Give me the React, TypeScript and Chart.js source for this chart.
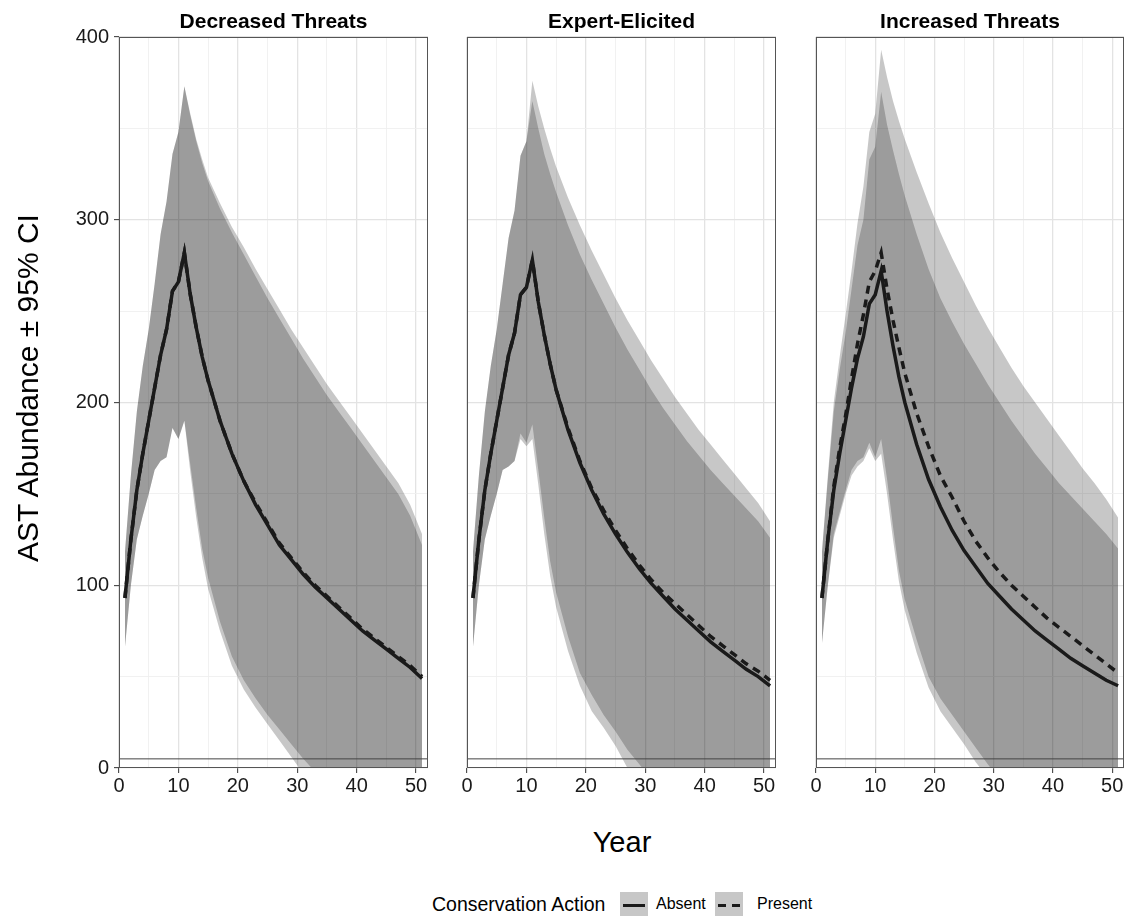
import React, { useEffect, useRef } from "react";
import { Chart, registerables } from "chart.js";

Chart.register(...registerables);

// ---------------- DATA ----------------
const years = [1, 2, 3, 4, 5, 6, 7, 8, 9, 10, 11, 12, 13, 14, 15, 17, 19, 21, 23, 25, 27, 29, 31, 33, 35, 37, 39, 41, 43, 45, 47, 49, 51];

const panelTitles = ["Decreased Threats", "Expert-Elicited", "Increased Threats"];
const xTickLabels = [0, 10, 20, 30, 40, 50];
const xGridValues = [0, 5, 10, 15, 20, 25, 30, 35, 40, 45, 50];
const yTickLabels = [0, 100, 200, 300, 400];
const yGridValues = [0, 50, 100, 150, 200, 250, 300, 350, 400];
const thresholdX = [0, 52];
const thresholdY = [5, 5];

// Decreased Threats
const dec_meanAbsent = [93, 125, 152, 172, 190, 208, 226, 240, 261, 266, 282, 259, 241, 225, 212, 190, 172, 157, 144, 133, 122, 114, 106, 99, 93, 87, 81, 75, 70, 65, 60, 55, 49];
const dec_meanPresent = [93, 125, 152, 172, 190, 208, 226, 240, 261, 266, 282, 259, 241, 225, 212, 190, 172, 157, 145, 134, 123, 115, 107, 100, 94, 88, 82, 76, 71, 66, 61, 56, 50];
const dec_upperAbsent = [118, 160, 195, 220, 240, 265, 292, 310, 336, 348, 373, 357, 343, 331, 321, 306, 293, 281, 269, 257, 246, 235, 224, 214, 204, 195, 186, 177, 168, 159, 150, 138, 122];
const dec_upperPresent = [118, 160, 195, 220, 240, 265, 292, 310, 336, 348, 373, 358, 344, 333, 323, 309, 296, 285, 273, 262, 251, 240, 230, 220, 210, 201, 192, 183, 174, 165, 156, 144, 128];
const dec_lowerAbsent = [66, 100, 125, 138, 150, 163, 168, 170, 186, 180, 190, 162, 137, 115, 98, 75, 56, 43, 33, 24, 15, 6, -3, -12, -20, -27, -33, -38, -43, -47, -51, -54, -57];
const dec_lowerPresent = [66, 100, 125, 138, 150, 163, 168, 170, 186, 180, 190, 166, 142, 120, 104, 80, 61, 48, 38, 29, 21, 13, 5, -2, -9, -16, -22, -28, -33, -38, -42, -46, -50];

// Expert-Elicited
const exp_meanAbsent = [93, 125, 152, 172, 190, 208, 226, 238, 259, 263, 278, 255, 237, 221, 207, 185, 167, 152, 139, 128, 118, 109, 101, 94, 87, 81, 75, 69, 64, 59, 54, 50, 45];
const exp_meanPresent = [93, 125, 152, 172, 190, 208, 226, 238, 259, 263, 278, 255, 237, 221, 207, 186, 168, 153, 141, 130, 120, 111, 103, 96, 90, 84, 78, 72, 67, 62, 57, 53, 48];
const exp_upperAbsent = [118, 160, 195, 220, 240, 265, 290, 305, 335, 343, 365, 350, 336, 325, 315, 297, 281, 267, 254, 241, 229, 218, 207, 197, 188, 179, 171, 163, 156, 149, 142, 135, 126];
const exp_upperPresent = [118, 160, 195, 220, 240, 265, 290, 305, 335, 343, 376, 362, 350, 339, 329, 312, 297, 283, 270, 257, 245, 234, 223, 213, 203, 194, 185, 177, 169, 161, 153, 145, 135];
const exp_lowerAbsent = [66, 100, 125, 138, 150, 163, 165, 168, 180, 176, 180, 155, 128, 105, 88, 64, 45, 31, 22, 12, 0, -7, -15, -22, -28, -34, -39, -43, -47, -51, -54, -57, -60];
const exp_lowerPresent = [66, 100, 125, 138, 150, 163, 165, 168, 183, 178, 188, 163, 137, 113, 96, 72, 52, 40, 29, 20, 10, 2, -6, -13, -20, -26, -31, -36, -40, -44, -48, -51, -54];

// Increased Threats
const inc_meanAbsent = [93, 125, 152, 172, 190, 208, 224, 236, 254, 259, 272, 250, 231, 214, 200, 177, 158, 143, 130, 119, 110, 101, 94, 87, 81, 75, 70, 65, 60, 56, 52, 48, 45];
const inc_meanPresent = [93, 125, 154, 175, 193, 213, 232, 248, 266, 272, 282, 262, 245, 230, 216, 194, 176, 160, 148, 135, 124, 115, 107, 100, 94, 88, 82, 77, 72, 67, 62, 57, 52];
const inc_upperAbsent = [118, 158, 195, 218, 238, 262, 286, 300, 333, 340, 370, 352, 338, 325, 313, 292, 273, 257, 244, 232, 221, 210, 200, 190, 181, 172, 164, 156, 149, 142, 135, 128, 120];
const inc_upperPresent = [118, 160, 200, 225, 248, 272, 298, 318, 348, 358, 393, 378, 365, 354, 344, 326, 309, 293, 279, 266, 253, 241, 230, 219, 209, 200, 191, 182, 173, 164, 156, 147, 137];
const inc_lowerAbsent = [68, 100, 126, 138, 150, 160, 165, 168, 175, 168, 172, 150, 125, 102, 86, 63, 44, 31, 22, 13, 3, -5, -12, -19, -25, -31, -36, -41, -45, -49, -52, -55, -58];
const inc_lowerPresent = [68, 100, 128, 140, 152, 163, 168, 170, 178, 170, 180, 158, 132, 108, 92, 70, 50, 38, 29, 20, 11, 2, -6, -13, -20, -26, -31, -36, -40, -44, -48, -51, -54];

// ---------------- LAYOUT / STYLE ----------------
const FONT = "'Liberation Sans', Arial, Helvetica, sans-serif";
const CANVAS_H = 800;
const RIBBON = "rgba(0,0,0,0.22)";
const LINE = "#1a1a1a";

const panelDefs = [
  { title: panelTitles[0], m: [dec_meanAbsent, dec_meanPresent], u: [dec_upperAbsent, dec_upperPresent], l: [dec_lowerAbsent, dec_lowerPresent], canvasLeft: 0, canvasW: 432, yW: 119, padR: 4, showY: true },
  { title: panelTitles[1], m: [exp_meanAbsent, exp_meanPresent], u: [exp_upperAbsent, exp_upperPresent], l: [exp_lowerAbsent, exp_lowerPresent], canvasLeft: 457, canvasW: 323, yW: 10, padR: 4, showY: false },
  { title: panelTitles[2], m: [inc_meanAbsent, inc_meanPresent], u: [inc_upperAbsent, inc_upperPresent], l: [inc_lowerAbsent, inc_lowerPresent], canvasLeft: 806, canvasW: 320, yW: 10, padR: 2, showY: false },
];

const pts = (arr: number[]) => years.map((x, i) => ({ x, y: arr[i] }));

const panelBorder = {
  id: "panelBorder",
  afterDatasetsDraw(chart: any) {
    const { ctx, chartArea: a } = chart;
    ctx.save();
    ctx.strokeStyle = "#555555";
    ctx.lineWidth = 1;
    const l = Math.round(a.left) + 0.5;
    const t = Math.round(a.top) + 0.5;
    const r = Math.round(a.right) - 0.5;
    const b = Math.round(a.bottom) - 0.5;
    ctx.strokeRect(l, t, r - l, b - t);
    ctx.restore();
  },
};

function makeConfig(p: any): any {
  const ribbonDs = (arr: number[], fill: any, order: number) => ({
    data: pts(arr),
    borderColor: "rgba(0,0,0,0)",
    borderWidth: 0,
    pointRadius: 0,
    backgroundColor: RIBBON,
    fill,
    order,
  });
  const isMajorX = (v: number) => xTickLabels.includes(v);
  const isMajorY = (v: number) => yTickLabels.includes(v);
  return {
    type: "line",
    data: {
      datasets: [
        { label: "Absent", data: pts(p.m[0]), borderColor: LINE, borderWidth: 3.5, pointRadius: 0, fill: false, order: 0 },
        { label: "Present", data: pts(p.m[1]), borderColor: LINE, borderWidth: 3.5, borderDash: [8, 6], pointRadius: 0, fill: false, order: 0 },
        { label: "threshold", data: thresholdX.map((x, i) => ({ x, y: thresholdY[i] })), borderColor: "#444444", borderWidth: 1, pointRadius: 0, fill: false, order: 1 },
        ribbonDs(p.u[0], "+1", 2),
        ribbonDs(p.l[0], false, 2),
        ribbonDs(p.u[1], "+1", 3),
        ribbonDs(p.l[1], false, 3),
      ],
    },
    options: {
      animation: false,
      responsive: false,
      maintainAspectRatio: false,
      events: [],
      layout: { padding: { top: 37, right: p.padR, left: 0, bottom: 0 } },
      plugins: { legend: { display: false }, tooltip: { enabled: false }, title: { display: false } },
      elements: { line: { tension: 0 }, point: { radius: 0 } },
      scales: {
        x: {
          type: "linear",
          min: 0,
          max: 52,
          afterBuildTicks: (s: any) => { s.ticks = xGridValues.map((v) => ({ value: v })); },
          afterFit: (s: any) => { s.height = CANVAS_H - 768; },
          border: { display: false },
          ticks: {
            autoSkip: false,
            maxRotation: 0,
            padding: 1,
            color: "#1a1a1a",
            font: { family: FONT, size: 20 },
            callback: (v: number) => (isMajorX(v) ? String(v) : ""),
          },
          grid: {
            drawTicks: true,
            tickLength: 5,
            color: (c: any) => {
              const v = c.tick ? c.tick.value : null;
              if (v == null) return "rgba(0,0,0,0)";
              return isMajorX(v) ? "#e3e3e3" : "#efefef";
            },
            lineWidth: (c: any) => (c.tick && isMajorX(c.tick.value) ? 1.3 : 0.9),
            tickColor: (c: any) => (c.tick && isMajorX(c.tick.value) ? "#333333" : "rgba(0,0,0,0)"),
            tickWidth: 1,
          },
        },
        y: {
          type: "linear",
          position: "left",
          min: 0,
          max: 400,
          afterBuildTicks: (s: any) => { s.ticks = yGridValues.map((v) => ({ value: v })); },
          afterFit: (s: any) => { s.width = p.yW; },
          border: { display: false },
          ticks: {
            display: p.showY,
            autoSkip: false,
            padding: 5,
            color: "#1a1a1a",
            font: { family: FONT, size: 20 },
            callback: (v: number) => (isMajorY(v) ? String(v) : ""),
          },
          grid: {
            drawTicks: p.showY,
            tickLength: 5,
            color: (c: any) => {
              const v = c.tick ? c.tick.value : null;
              if (v == null) return "rgba(0,0,0,0)";
              return isMajorY(v) ? "#e3e3e3" : "#efefef";
            },
            lineWidth: (c: any) => (c.tick && isMajorY(c.tick.value) ? 1.3 : 0.9),
            tickColor: (c: any) => (c.tick && isMajorY(c.tick.value) ? "#333333" : "rgba(0,0,0,0)"),
            tickWidth: 1,
          },
        },
      },
    },
    plugins: [panelBorder],
  };
}

function Panel({ p }: { p: any }) {
  const ref = useRef<HTMLCanvasElement>(null);
  useEffect(() => {
    if (!ref.current) return;
    const chart = new Chart(ref.current, makeConfig(p));
    return () => chart.destroy();
  }, [p]);
  return (
    <canvas
      ref={ref}
      width={p.canvasW}
      height={CANVAS_H}
      style={{ position: "absolute", left: p.canvasLeft, top: 0, width: p.canvasW, height: CANVAS_H }}
    />
  );
}

const panelAreas = [
  { left: 119, right: 428 },
  { left: 467, right: 776 },
  { left: 816, right: 1124 },
];

export default function App() {
  return (
    <div style={{ position: "fixed", left: 0, top: 0, width: 1126, height: 916, background: "#ffffff", overflow: "hidden", fontFamily: FONT, color: "#000" }}>
      {panelDefs.map((p, i) => (
        <Panel key={i} p={p} />
      ))}
      {panelDefs.map((p, i) => (
        <div
          key={"t" + i}
          style={{
            position: "absolute",
            left: panelAreas[i].left,
            width: panelAreas[i].right - panelAreas[i].left,
            top: 7,
            height: 28,
            lineHeight: "28px",
            textAlign: "center",
            fontWeight: "bold",
            fontSize: 21,
            whiteSpace: "nowrap",
          }}
        >
          {p.title}
        </div>
      ))}
      {/* y-axis title */}
      <div
        style={{
          position: "absolute",
          left: 28 - 250,
          top: 388 - 20,
          width: 500,
          height: 40,
          lineHeight: "40px",
          textAlign: "center",
          fontSize: 30,
          transform: "rotate(-90deg)",
          transformOrigin: "50% 50%",
          whiteSpace: "nowrap",
        }}
      >
        AST Abundance ± 95% CI
      </div>
      {/* x-axis title */}
      <div
        style={{
          position: "absolute",
          left: 622 - 200,
          top: 842 - 20,
          width: 400,
          height: 40,
          lineHeight: "40px",
          textAlign: "center",
          fontSize: 29,
        }}
      >
        Year
      </div>
      {/* legend */}
      <div style={{ position: "absolute", left: 432, top: 904 - 12, height: 24, lineHeight: "24px", fontSize: 19.5, whiteSpace: "nowrap" }}>
        Conservation Action
      </div>
      <div style={{ position: "absolute", left: 620, top: 892, width: 28, height: 26, background: "#c7c7c7" }}>
        <div style={{ position: "absolute", left: 3, right: 3, top: 12, height: 0, borderTop: "3.5px solid " + LINE }} />
      </div>
      <div style={{ position: "absolute", left: 656, top: 904 - 12, height: 24, lineHeight: "24px", fontSize: 16, whiteSpace: "nowrap" }}>
        Absent
      </div>
      <div style={{ position: "absolute", left: 715, top: 892, width: 28, height: 26, background: "#c7c7c7" }}>
        <div style={{ position: "absolute", left: 3, width: 8, top: 12, height: 0, borderTop: "3.5px solid " + LINE }} />
        <div style={{ position: "absolute", left: 17, width: 8, top: 12, height: 0, borderTop: "3.5px solid " + LINE }} />
      </div>
      <div style={{ position: "absolute", left: 757, top: 904 - 12, height: 24, lineHeight: "24px", fontSize: 16, whiteSpace: "nowrap" }}>
        Present
      </div>
    </div>
  );
}
